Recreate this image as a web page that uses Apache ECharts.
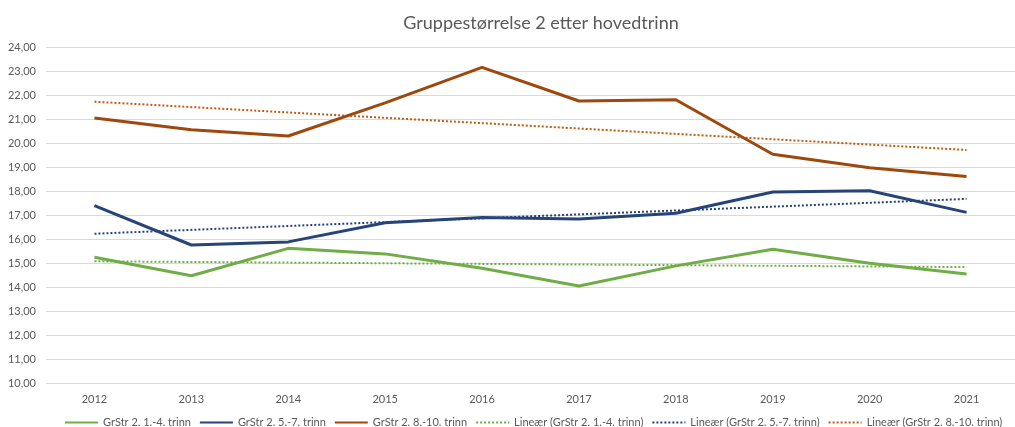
<!DOCTYPE html>
<html>
<head>
<meta charset="utf-8">
<script src="https://cdn.jsdelivr.net/npm/echarts@6/dist/echarts.min.js"></script>
<style>
  html, body { margin: 0; padding: 0; background: #fff; }
  #chart { width: 1015px; height: 427px; }
</style>
</head>
<body>
<div id="chart"></div>
<script>
let years = ["2012", "2013", "2014", "2015", "2016", "2017", "2018", "2019", "2020", "2021"];

let trinn14 = [15.24, 14.47, 15.61, 15.38, 14.78, 14.04, 14.88, 15.57, 14.99, 14.54];
let trinn57 = [17.39, 15.75, 15.88, 16.68, 16.90, 16.83, 17.07, 17.96, 18.01, 17.11];
let trinn810 = [21.04, 20.55, 20.29, 21.67, 23.15, 21.75, 21.80, 19.53, 18.97, 18.60];

// trend lines (start 2012, end 2021)
let trend14 = [15.07, null, null, null, null, null, null, null, null, 14.83];
let trend57 = [16.22, null, null, null, null, null, null, null, null, 17.67];
let trend810 = [21.72, null, null, null, null, null, null, null, null, 19.71];

let green = "#70AD47";
let blue = "#264478";
let orange = "#9E480E";
let font = "Lato, 'Open Sans', sans-serif";

let chart = echarts.init(document.getElementById("chart"));

function mainLine(name, data, color) {
  return {
    name: name,
    type: "line",
    data: data,
    symbol: "none",
    color: color,
    lineStyle: { width: 3, color: color },
    z: 3,
  };
}

function trendLine(name, data, color) {
  return {
    name: name,
    type: "line",
    data: data,
    symbol: "none",
    connectNulls: true,
    color: color,
    lineStyle: { width: 2, color: color, type: [2, 2] },
    z: 2,
  };
}

let option = {
  backgroundColor: "#fff",
  animation: false,
  title: {
    text: "Gruppestørrelse 2 etter hovedtrinn",
    left: 536,
    textAlign: "center",
    top: 9,
    textStyle: {
      fontFamily: font,
      fontSize: 18,
      fontWeight: "normal",
      color: "#595959",
    },
  },
  grid: {
    left: 46,
    right: -13,
    top: 47,
    bottom: 44,
  },
  legend: {
    bottom: -1,
    left: 64,
    width: 1000,
    padding: 0,
    itemWidth: 33,
    itemHeight: 10,
    itemGap: 8,
    itemStyle: { opacity: 0 },
    textStyle: { fontFamily: font, fontSize: 11, color: "#595959" },
    data: [
      "GrStr 2. 1.-4. trinn",
      "GrStr 2. 5.-7. trinn",
      "GrStr 2. 8.-10. trinn",
      "Lineær (GrStr 2. 1.-4. trinn)",
      "Lineær (GrStr 2. 5.-7. trinn)",
      "Lineær (GrStr 2. 8.-10. trinn)",
    ],
  },
  xAxis: {
    type: "category",
    data: years,
    axisLine: { show: false },
    axisTick: { show: false },
    axisLabel: {
      fontFamily: font,
      fontSize: 11,
      color: "#595959",
      margin: 11,
    },
  },
  yAxis: {
    type: "value",
    min: 10,
    max: 24,
    interval: 1,
    axisLine: { show: false },
    axisTick: { show: false },
    splitLine: { lineStyle: { color: "#D9D9D9", width: 1 } },
    axisLabel: {
      fontFamily: font,
      fontSize: 11,
      color: "#595959",
      margin: 10,
      formatter: function (v) {
        return v.toFixed(2).replace(".", ",");
      },
    },
  },
  series: [
    mainLine("GrStr 2. 1.-4. trinn", trinn14, green),
    mainLine("GrStr 2. 5.-7. trinn", trinn57, blue),
    mainLine("GrStr 2. 8.-10. trinn", trinn810, orange),
    trendLine("Lineær (GrStr 2. 1.-4. trinn)", trend14, green),
    trendLine("Lineær (GrStr 2. 5.-7. trinn)", trend57, blue),
    trendLine("Lineær (GrStr 2. 8.-10. trinn)", trend810, "#C55A11"),
  ],
};

chart.setOption(option);

window.onresize = function () {
  chart.resize();
};
</script>
</body>
</html>
